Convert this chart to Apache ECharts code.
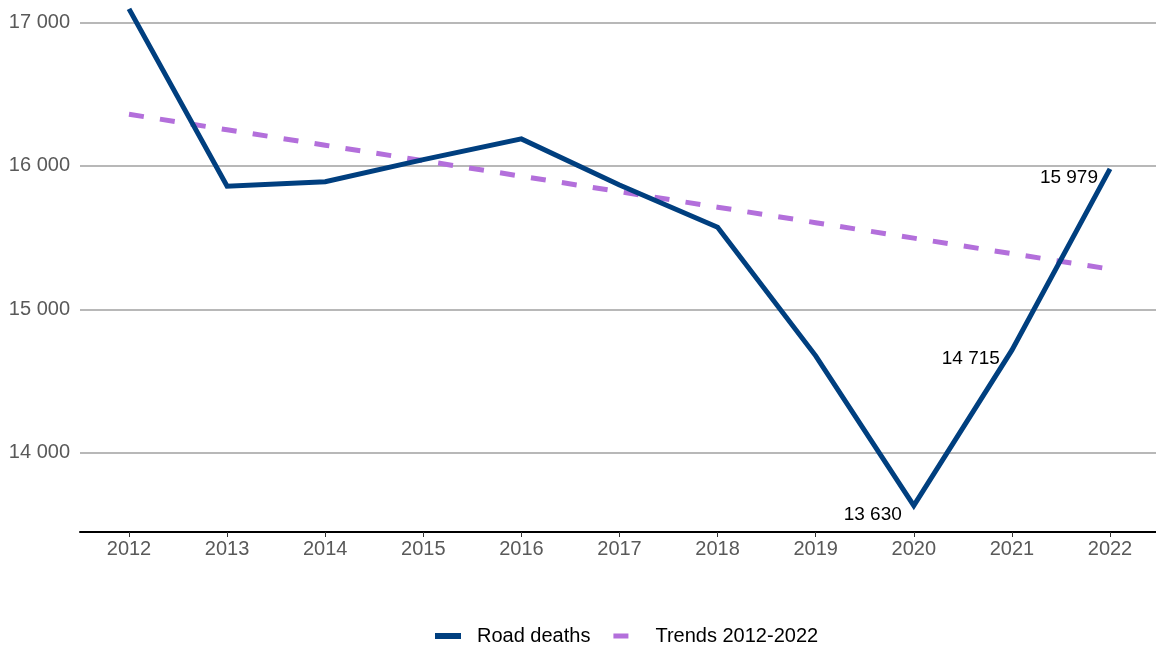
<!DOCTYPE html>
<html>
<head>
<meta charset="utf-8">
<title>Road deaths 2012-2022</title>
<script src="https://cdn.jsdelivr.net/npm/echarts@6/dist/echarts.min.js"></script>
<style>
  html, body { margin: 0; padding: 0; background: #ffffff; }
  #chart { width: 1156px; height: 647px; }
</style>
</head>
<body>
<div id="chart"></div>
<script>
// Years on the horizontal axis
const years = ['2012', '2013', '2014', '2015', '2016', '2017', '2018', '2019', '2020', '2021', '2022'];
// Road deaths per year
const roadDeaths = [17095, 15858, 15890, 16044, 16188, 15866, 15572, 14675, 13630, 14715, 15979];
// Linear trend over 2012-2022
const trend = [16360, 16252, 16144, 16036, 15928, 15820, 15712, 15604, 15496, 15388, 15280];
// Years whose value is written next to the line
const labelledYears = ['2020', '2021', '2022'];

const fontFamily = '"Liberation Sans", Arial, sans-serif';
const fmt = v => String(Math.round(v)).replace(/\B(?=(\d{3})+(?!\d))/g, ' ');

const chart = echarts.init(document.getElementById('chart'), null, { renderer: 'canvas' });

const deathData = roadDeaths.map((v, i) => {
  if (labelledYears.indexOf(years[i]) >= 0) {
    return {
      value: v,
      label: {
        show: true,
        position: 'left',
        distance: 12,
        offset: [0, 9],
        formatter: p => fmt(p.value),
        color: '#000000',
        fontSize: 19,
        fontFamily: fontFamily
      }
    };
  }
  return v;
});

// shared vertical extent: the value axis starts at 13 000 and the
// category axis line is lifted to sit just under the lowest point
const gridTop = 0;
const gridBottom = 51;
const axisLift = -64;

chart.setOption({
  animation: false,
  backgroundColor: '#ffffff',
  grid: [
    // data area: first and last year sit on the plot edges
    { left: 129, right: 46, top: gridTop, bottom: gridBottom, containLabel: false },
    // full-width frame carrying the gridlines, value labels and the baseline
    { left: 80, right: 0, top: gridTop, bottom: gridBottom, containLabel: false }
  ],
  xAxis: [
    {
      type: 'category',
      gridIndex: 0,
      data: years,
      boundaryGap: false,
      offset: axisLift,
      axisLine: { show: false },
      axisTick: { show: true, length: 5, lineStyle: { color: '#333333', width: 1 } },
      axisLabel: { color: '#595959', fontSize: 20, fontFamily: fontFamily, margin: 7 },
      splitLine: { show: false }
    },
    {
      type: 'category',
      gridIndex: 1,
      data: years,
      offset: axisLift,
      axisLine: { show: true, lineStyle: { color: '#000000', width: 2 } },
      axisTick: { show: false },
      axisLabel: { show: false },
      splitLine: { show: false }
    }
  ],
  yAxis: [
    {
      type: 'value',
      gridIndex: 0,
      min: 13000,
      max: 17157,
      interval: 1000,
      show: false,
      splitLine: { show: false }
    },
    {
      type: 'value',
      gridIndex: 1,
      min: 13000,
      max: 17157,
      interval: 1000,
      axisLine: { show: false },
      axisTick: { show: false },
      axisLabel: {
        color: '#595959', fontSize: 20, fontFamily: fontFamily, margin: 10,
        showMinLabel: false, showMaxLabel: false,
        formatter: v => (v % 1000 === 0 ? fmt(v) : '')
      },
      splitLine: { show: true, showMinLine: false, showMaxLine: false, lineStyle: { color: '#a0a0a0', width: 1.5 } }
    }
  ],
  legend: {
    left: 435,
    bottom: 1,
    padding: 0,
    itemWidth: 26,
    itemHeight: 6,
    itemGap: 23,
    textStyle: { color: '#000000', fontSize: 20, fontFamily: fontFamily, padding: [0, 0, 0, 11] },
    data: [
      { name: 'Road deaths', icon: 'rect', itemStyle: { color: '#003f7f' } },
      { name: 'Trends 2012-2022', icon: 'path://M0 0H15V5H0Z M26 0L26 0.01L25.99 0Z', itemStyle: { color: '#b36fdb' } }
    ]
  },
  series: [
    {
      name: 'Trends 2012-2022',
      type: 'line',
      xAxisIndex: 0,
      yAxisIndex: 0,
      data: trend,
      symbol: 'none',
      clip: false,
      z: 2,
      lineStyle: { color: '#b36fdb', width: 5, type: [15, 16.3], cap: 'butt' },
      itemStyle: { color: '#b36fdb' }
    },
    {
      name: 'Road deaths',
      type: 'line',
      xAxisIndex: 0,
      yAxisIndex: 0,
      data: deathData,
      symbol: 'circle',
      symbolSize: 0.01,
      showSymbol: true,
      clip: false,
      z: 3,
      lineStyle: { color: '#003f7f', width: 5, cap: 'butt', join: 'miter' },
      itemStyle: { color: '#003f7f' }
    }
  ]
});
</script>
</body>
</html>
